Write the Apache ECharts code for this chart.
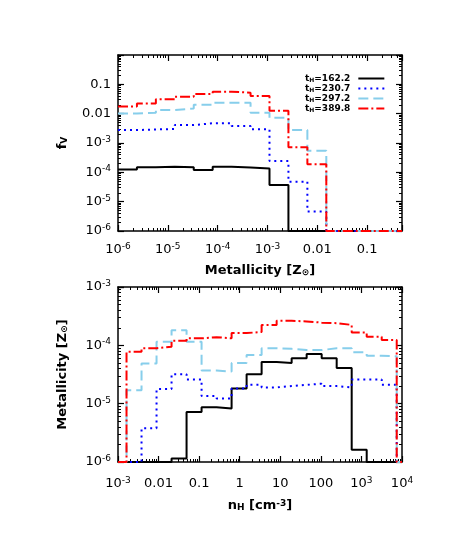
<!DOCTYPE html>
<html>
<head>
<meta charset="utf-8">
<script src="https://cdn.jsdelivr.net/npm/echarts@6/dist/echarts.min.js"></script>
<style>
  html, body { margin: 0; padding: 0; background: #fff; }
  #chart { width: 452px; height: 551px; }
</style>
</head>
<body>
<div id="chart"></div>
<script>
// legend names
const runNames = ['t_H=162.2', 't_H=230.7', 't_H=297.2', 't_H=389.8']

// top panel: volume fraction per metallicity bin (bin edges in log10 Z)
const zEdgesLog = [-6, -5.62, -5.24, -4.86, -4.48, -4.10, -3.72, -3.34, -2.96, -2.58, -2.20, -1.82, -1.44, -1.06, -0.68, -0.30]
const fv162 = [1.26e-4, 1.48e-4, 1.55e-4, 1.48e-4, 1.2e-4, 1.55e-4, 1.45e-4, 1.35e-4, 3.7e-5, 0, 0, 0, 0, 0, 0]
const fv230 = [2.75e-3, 2.9e-3, 3.0e-3, 4.1e-3, 4.7e-3, 4.7e-3, 3.8e-3, 2.95e-3, 2.45e-4, 4.8e-5, 4.6e-6, 0, 0, 0, 0]
const fv297 = [1.02e-2, 1.07e-2, 1.33e-2, 1.5e-2, 2.0e-2, 2.35e-2, 2.35e-2, 1.07e-2, 7.2e-3, 2.75e-3, 5.4e-4, 0, 0, 0, 0]
const fv389 = [1.74e-2, 2.24e-2, 3.1e-2, 3.8e-2, 4.7e-2, 5.6e-2, 5.2e-2, 4.0e-2, 1.26e-2, 7.1e-4, 1.9e-4, 0, 0, 0, 0]

// bottom panel: mean metallicity per density bin (bin edges in log10 nH)
const nEdgesLog = [-2.79, -2.42, -2.05, -1.68, -1.31, -0.94, -0.57, -0.20, 0.17, 0.54, 0.91, 1.28, 1.65, 2.02, 2.39, 2.76, 3.13, 3.50, 3.87]
const z162 = [0, 0, 0, 1.15e-6, 7.2e-6, 8.7e-6, 8.3e-6, 1.82e-5, 3.2e-5, 5.2e-5, 5.0e-5, 6.0e-5, 7.1e-5, 6.0e-5, 4.1e-5, 1.62e-6, 0, 0]
const z230 = [0, 3.8e-6, 1.78e-5, 3.2e-5, 2.6e-5, 1.35e-5, 1.23e-5, 1.82e-5, 2.1e-5, 1.9e-5, 2.0e-5, 2.1e-5, 2.2e-5, 2.0e-5, 1.9e-5, 2.6e-5, 2.6e-5, 2.1e-5]
const z297 = [1.7e-5, 4.9e-5, 1.15e-4, 1.82e-4, 1.15e-4, 3.7e-5, 3.55e-5, 5.0e-5, 6.8e-5, 8.9e-5, 8.7e-5, 8.3e-5, 8.3e-5, 8.9e-5, 8.9e-5, 7.6e-5, 6.6e-5, 6.5e-5]
const z389 = [7.8e-5, 8.9e-5, 9.5e-5, 1.2e-4, 1.32e-4, 1.38e-4, 1.32e-4, 1.62e-4, 1.7e-4, 2.24e-4, 2.63e-4, 2.57e-4, 2.45e-4, 2.4e-4, 2.24e-4, 1.66e-4, 1.41e-4, 1.23e-4]

const FONT = 'DejaVu Sans'
const lineStyles = [
  { color: '#000000', width: 2, type: 'solid' },
  { color: '#0000ff', width: 2, type: [2, 4] },
  { color: '#87ceeb', width: 2, type: [10, 5] },
  { color: '#ff0000', width: 2, type: [10, 3, 2, 3] },
]

// histogram -> step points, empty bins drawn on the floor of the axis
function histPoints(edgesLog, vals, floor, xMin, xMax) {
  const pts = []
  const v = vals.map((d) => (d > 0 ? d : floor))
  const n = v.length
  if (xMin != null) pts.push([xMin, floor])
  for (let i = 0; i < n; i++) pts.push([Math.pow(10, edgesLog[i]), v[i]])
  if (xMax != null) {
    pts.push([Math.pow(10, edgesLog[n]), floor])
    pts.push([xMax, floor])
  } else {
    pts.push([Math.pow(10, edgesLog[n]), v[n - 1]])
  }
  return pts
}

function expOf(v) {
  const e = Math.log10(v)
  const r = Math.round(e)
  return Math.abs(e - r) > 1e-6 ? null : r
}
function pow10Label(r) {
  return '10{sup|' + r + '}'
}

const chart = echarts.init(document.getElementById('chart'))

const grids = [
  { left: 118, top: 55, width: 284, height: 176 },
  { left: 118, top: 287, width: 284, height: 175 },
]

const labelRich = {
  sup: { fontSize: 9, fontFamily: FONT, color: '#000', verticalAlign: 'top', lineHeight: 10 },
}
const nameRich = {
  sub: { fontSize: 9, fontFamily: FONT, fontWeight: 'bold', color: '#000', verticalAlign: 'bottom', lineHeight: 10 },
  sup: { fontSize: 9, fontFamily: FONT, fontWeight: 'bold', color: '#000', verticalAlign: 'top', lineHeight: 10 },
}

function frameAxis(gridIndex, position, min, max, showLabel, formatter, extra) {
  return Object.assign({
    type: 'log',
    gridIndex: gridIndex,
    position: position,
    min: min,
    max: max,
    axisLine: { show: true, lineStyle: { color: '#000', width: 1.5 } },
    axisTick: { show: true, inside: true, length: 6, lineStyle: { color: '#000', width: 1.2 } },
    minorTick: { show: true, splitNumber: 9, length: 3, lineStyle: { color: '#000', width: 1 } },
    splitLine: { show: false },
    minorSplitLine: { show: false },
    axisLabel: {
      show: showLabel,
      formatter: formatter,
      fontFamily: FONT,
      fontSize: 13,
      color: '#000',
      lineHeight: 16,
      margin: 7,
      rich: labelRich,
    },
  }, extra || {})
}

const topXFmt = (v) => {
  const r = expOf(v)
  if (r == null) return ''
  if (r === -2) return '0.01'
  if (r === -1) return '0.1'
  return pow10Label(r)
}
const botXFmt = (v) => {
  const r = expOf(v)
  if (r == null) return ''
  const plain = { '-2': '0.01', '-1': '0.1', '0': '1', '1': '10', '2': '100' }
  if (plain[r] != null) return plain[r]
  return pow10Label(r)
}
const topYFmt = (v) => {
  const r = expOf(v)
  if (r == null || r === 0) return ''
  if (r === -2) return '0.01'
  if (r === -1) return '0.1'
  return pow10Label(r)
}
const botYFmt = (v) => {
  const r = expOf(v)
  if (r == null) return ''
  return pow10Label(r)
}

const titleStyle = { fontFamily: FONT, fontSize: 13, fontWeight: 'bold', color: '#000', rich: nameRich }

const xAxes = [
  frameAxis(0, 'bottom', 1e-6, 0.5, true, topXFmt, {
    name: 'Metallicity [Z{sub|⊙}]', nameLocation: 'middle', nameGap: 33, nameTextStyle: titleStyle,
  }),
  frameAxis(0, 'top', 1e-6, 0.5, false, topXFmt),
  frameAxis(1, 'bottom', 1e-3, 1e4, true, botXFmt, {
    name: 'n{sub|H} [cm{sup|-3}]', nameLocation: 'middle', nameGap: 37, nameTextStyle: titleStyle,
  }),
  frameAxis(1, 'top', 1e-3, 1e4, false, botXFmt),
]
xAxes[0].axisLabel.margin = 11
xAxes[2].axisLabel.margin = 14

const yAxes = [
  frameAxis(0, 'left', 1e-6, 1, true, topYFmt, {
    name: 'f{sub|V}', nameLocation: 'middle', nameGap: 49, nameTextStyle: titleStyle,
  }),
  frameAxis(0, 'right', 1e-6, 1, false, topYFmt),
  frameAxis(1, 'left', 1e-6, 1e-3, true, botYFmt, {
    name: 'Metallicity [Z{sub|⊙}]', nameLocation: 'middle', nameGap: 49, nameTextStyle: titleStyle,
  }),
  frameAxis(1, 'right', 1e-6, 1e-3, false, botYFmt),
]

const topVals = [fv162, fv230, fv297, fv389]
const botVals = [z162, z230, z297, z389]
const series = []
runNames.forEach((name, i) => {
  series.push({
    name: name,
    type: 'line',
    xAxisIndex: 0,
    yAxisIndex: 0,
    step: 'end',
    symbol: 'none',
    clip: false,
    lineStyle: lineStyles[i],
    itemStyle: { color: lineStyles[i].color },
    data: histPoints(zEdgesLog, topVals[i], 1e-6),
  })
  series.push({
    name: name,
    type: 'line',
    xAxisIndex: 2,
    yAxisIndex: 2,
    step: 'end',
    symbol: 'none',
    clip: false,
    lineStyle: lineStyles[i],
    itemStyle: { color: lineStyles[i].color },
    data: histPoints(nEdgesLog, botVals[i], 1e-6, 1e-3, 1e4),
  })
})

chart.setOption({
  backgroundColor: '#fff',
  animation: false,
  grid: grids,
  xAxis: xAxes,
  yAxis: yAxes,
  legend: {
    data: runNames,
    orient: 'vertical',
    left: 300,
    top: 69,
    align: 'right',
    itemWidth: 26,
    itemHeight: 8,
    itemGap: 1,
    selectedMode: false,
    itemStyle: { opacity: 0 },
    formatter: (name) => name.replace('t_H', 't{sub|H}'),
    textStyle: {
      fontFamily: FONT,
      fontSize: 9,
      fontWeight: 'bold',
      color: '#000',
      lineHeight: 9,
      padding: [0, 3, 0, 0],
      rich: {
        sub: { fontSize: 6, fontFamily: FONT, fontWeight: 'bold', color: '#000', verticalAlign: 'bottom', lineHeight: 9 },
      },
    },
  },
  series: series,
})
</script>
</body>
</html>
